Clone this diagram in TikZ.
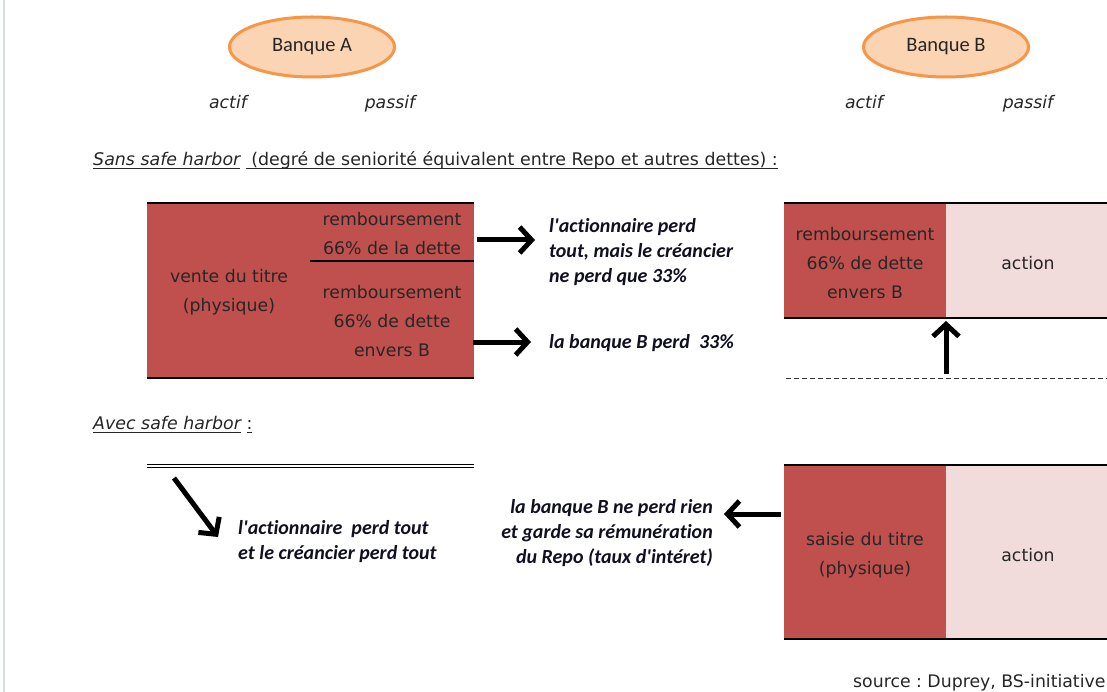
\documentclass[tikz,border=0pt]{standalone}
\usepackage{fontspec}
\setmainfont{DejaVu Sans}
\newfontfamily\calib[Ligatures={NoCommon,NoRare,NoDiscretionary}]{Carlito}
\usetikzlibrary{arrows.meta,shapes.geometric}
\definecolor{darkred}{HTML}{C0504D}
\definecolor{lightred}{HTML}{F2DCDB}
\definecolor{ellfill}{HTML}{FBD4B4}
\definecolor{ellline}{HTML}{F79646}
\definecolor{edgecol}{HTML}{D5DCE8}
\definecolor{txt}{HTML}{262626}
\definecolor{boldtxt}{HTML}{101020}
\newcommand\ulin[1]{\setbox0\hbox{#1}\rlap{\rule[-3.5pt]{\wd0}{1pt}}\box0}
\begin{document}
\frenchspacing
\begin{tikzpicture}[x=1pt,y=-1pt,
  lbl/.style={font=\fontsize{17.3}{29}\selectfont, align=center, text=txt, inner sep=0pt},
  ital/.style={font=\fontsize{17.3}{20}\selectfont\itshape, text=txt, inner sep=0pt, anchor=base},
  bold/.style={font=\calib\fontsize{20}{25}\selectfont\bfseries\itshape, text=boldtxt, inner sep=0pt},
  bank/.style={ellipse, draw=ellline, line width=3pt, fill=ellfill, minimum width=165pt, minimum height=60pt, inner sep=0pt, font=\calib\fontsize{20.5}{22}\selectfont, text=txt},
  bigarrow/.style={line width=5pt, -{Straight Barb[length=12pt,width=26pt]}},
  thickline/.style={line width=2.5pt},
]
\useasboundingbox (0,0) rectangle (1107,692);
\fill[white] (0,0) rectangle (1107,692);
\draw[edgecol, line width=1.5pt] (4,0) -- (4,692);

% banks
\node[bank] (bankA) at (312,47) {Banque A};
\node[bank] (bankB) at (946,47) {Banque B};
\node[ital] (actA) at (228,109) {actif};
\node[ital] (pasA) at (390,109) {passif};
\node[ital] (actB) at (864,109) {actif};
\node[ital] (pasB) at (1028,109) {passif};

% headings
\node[lbl, anchor=base west, font=\fontsize{17.4}{20}\selectfont] (head1) at (93,166)
  {\ulin{\itshape Sans safe harbor}\ \ulin{\ (degré de seniorité équivalent entre Repo et autres dettes) :}};
\node[lbl, anchor=base west, font=\fontsize{17.4}{20}\selectfont] (head2) at (93,429)
  {\ulin{\itshape Avec safe harbor}\ \ulin{:}};

% left box (sans safe harbor)
\coordinate (LBtl) at (147,203);
\coordinate (LBbr) at (474,378);
\fill[darkred] (LBtl) rectangle (LBbr);
\draw[thickline] (147,203) -- (474,203);
\draw[thickline] (147,378) -- (474,378);
\draw[line width=1.2pt] (310,261) -- (474,261);
\node[lbl] (vente) at (229,292) {vente du titre\\(physique)};
\node[lbl] (remb1) at (392,234) {remboursement\\66\% de la dette};
\node[lbl] (remb2) at (392,321) {remboursement\\66\% de dette\\envers B};

% texts right of left box
\node[bold, anchor=west, align=left] (t1) at (549,252) {l'actionnaire perd\\tout, mais le créancier\\ne perd que 33\%};
\node[bold, anchor=west] (t2) at (549,343) {la banque B perd\ \ 33\%};
\coordinate (a1s) at (477,240);
\coordinate (a1e) at (535,240);
\coordinate (a2s) at (473,342);
\coordinate (a2e) at (531,342);
\draw[bigarrow] (a1s) -- (a1e);
\draw[bigarrow] (a2s) -- (a2e);

% right box top (bank B)
\fill[darkred] (784,203) rectangle (946,318);
\fill[lightred] (946,203) rectangle (1107,318);
\draw[thickline] (784,203) -- (1107,203);
\draw[thickline] (784,318) -- (1107,318);
\node[lbl] (remb3) at (865,263) {remboursement\\66\% de dette\\envers B};
\node[lbl] (act1) at (1028,263) {action};
\coordinate (upS) at (946,374);
\coordinate (upE) at (946,321);
\draw[bigarrow] (upS) -- (upE);
\draw[dashed, line width=1pt, dash pattern=on 5pt off 3pt, black!80] (786,378) -- (1107,378);

% avec safe harbor
\draw[line width=1pt] (147,464) -- (474,464);
\draw[line width=1pt] (147,467.5) -- (474,467.5);
\coordinate (dS) at (174,478);
\coordinate (dE) at (218,537);
\draw[bigarrow] (dS) -- (dE);
\node[bold, anchor=west, align=left] (t3) at (238,542) {l'actionnaire\ \ perd tout\\et le créancier perd tout};
\node[bold, anchor=east, align=right] (t4) at (713,533) {la banque B ne perd rien\\et garde sa rémunération\\du Repo (taux d'intéret)};

% right box bottom
\fill[darkred] (784,465) rectangle (946,639);
\fill[lightred] (946,465) rectangle (1107,639);
\draw[thickline] (784,465) -- (1107,465);
\draw[thickline] (784,639) -- (1107,639);
\node[lbl] (saisie) at (865,555) {saisie du titre\\(physique)};
\node[lbl] (act2) at (1028,555) {action};
\coordinate (lS) at (781,514);
\coordinate (lE) at (724,514);
\draw[bigarrow] (lS) -- (lE);

\node[lbl, anchor=base west] (src) at (853,687) {source : Duprey, BS-initiative};
\end{tikzpicture}
\end{document}
